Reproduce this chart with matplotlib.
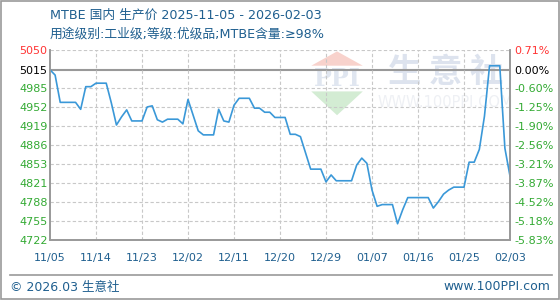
import matplotlib.pyplot as plt
import numpy as np
from matplotlib.patches import Polygon, Rectangle

plt.rcParams['font.family'] = ['DejaVu Sans', 'Noto Sans CJK SC']

# days after 2025-11-05 and price (yuan/ton) at each turning point
days = [0, 1, 2, 5, 6, 7, 8, 9, 11, 12, 13, 14, 15, 16, 18, 19, 20, 21, 22, 23,
        25, 26, 27, 29, 30, 32, 33, 34, 35, 36, 37, 39, 40, 41, 42, 43, 44, 46,
        47, 48, 49, 50, 51, 53, 54, 55, 56, 59, 60, 61, 62, 63, 64, 65, 67, 68,
        69, 70, 74, 75, 76, 77, 78, 79, 81, 82, 83, 84, 85, 86, 88, 89, 90]
prices = [5015, 5006, 4959, 4959, 4947, 4986, 4986, 4992, 4992, 4958, 4920, 4934,
          4946, 4927, 4927, 4951, 4953, 4929, 4925, 4930, 4930, 4922, 4964, 4910,
          4903, 4903, 4947, 4927, 4925, 4954, 4966, 4966, 4949, 4949, 4942, 4942,
          4933, 4933, 4904, 4904, 4900, 4872, 4844, 4844, 4822, 4834, 4824, 4824,
          4851, 4863, 4854, 4808, 4780, 4783, 4783, 4750, 4774, 4795, 4795, 4777,
          4788, 4801, 4808, 4813, 4813, 4856, 4856, 4878, 4935, 5022, 5022, 4880,
          4832]

base_price = 5015
y_labels = ['4722', '4755', '4788', '4821', '4853', '4886', '4919', '4952', '4985',
            '5015', '5050']
pct_labels = ['-5.83%', '-5.18%', '-4.52%', '-3.87%', '-3.21%', '-2.56%', '-1.90%',
              '-1.25%', '-0.60%', '0.00%', '0.71%']
x_labels = ['11/05', '11/14', '11/23', '12/02', '12/11', '12/20', '12/29', '01/07',
            '01/16', '01/25', '02/03']

blue_text = '#1f5f8f'
green = '#33aa33'
red = '#ff3333'
grey = '#999999'

fig = plt.figure(figsize=(5.6, 3.0), dpi=100)
fig.patches.append(Rectangle((0.0015, 0.003), 0.997, 0.994, transform=fig.transFigure,
                             fill=False, edgecolor=grey, linewidth=1.2))

ax = fig.add_axes([50 / 560, 60 / 300, 460 / 560, 190.5 / 300])
ymin, ymax = 4722, 5050
yt = np.linspace(ymin, ymax, 11)
yt[9] = base_price
xt = np.arange(0, 91, 9)

ax.set_xlim(0, 90)
ax.set_ylim(ymin, ymax)

# watermark
ax.add_patch(Polygon([[0.568, 0.915], [0.68, 0.915], [0.624, 0.99]], closed=True,
                     transform=ax.transAxes, facecolor='#f8d2cc', edgecolor='none', zorder=0))
ax.add_patch(Polygon([[0.568, 0.78], [0.68, 0.78], [0.624, 0.655]], closed=True,
                     transform=ax.transAxes, facecolor='#d3ecd3', edgecolor='none', zorder=0))
ax.text(0.624, 0.845, 'PPI', transform=ax.transAxes, ha='center', va='center',
        fontsize=17, color='#e0e6f0', fontweight='bold', family='DejaVu Serif', zorder=0)
ax.text(0.86, 0.88, '生 意 社', transform=ax.transAxes, ha='center', va='center',
        fontsize=24, color='#dde3ee', fontweight='bold', family='Noto Sans CJK SC', zorder=0)
ax.text(0.86, 0.72, 'WWW.100PPI.COM', transform=ax.transAxes, ha='center', va='center',
        fontsize=10.5, color='#eef0f4', zorder=0)

for v in yt[:-1]:
    if v == base_price:
        ax.axhline(v, color=grey, linewidth=1.5, zorder=1)
    else:
        ax.axhline(v, color='#c8c8c8', linewidth=0.8, linestyle=(0, (3, 2)), zorder=1)
ax.axhline(ymax, color='#c8c8c8', linewidth=0.8, linestyle=(0, (3, 2)), zorder=1)
for d in xt[1:-1]:
    ax.axvline(d, color='#c8c8c8', linewidth=0.8, linestyle=(0, (3, 2)), zorder=1)

ax.plot(days, prices, color='#3a98d8', linewidth=1.2, zorder=3)

ax.set_yticks(yt)
ax.set_yticklabels(y_labels, fontsize=8)
ax.set_xticks(xt)
ax.set_xticklabels(x_labels, fontsize=8, color=blue_text)
ax.tick_params(axis='y', length=0, pad=22)
ax.tick_params(axis='x', length=0, pad=9)
for lbl in ax.get_yticklabels():
    lbl.set_horizontalalignment('left')
    lbl.set_color(green)
ax.get_yticklabels()[-1].set_color(red)
ax.get_yticklabels()[-2].set_color('black')

ax2 = ax.twinx()
ax2.set_ylim(ymin, ymax)
ax2.set_yticks(yt)
ax2.set_yticklabels(pct_labels, fontsize=8)
ax2.tick_params(axis='y', length=0, pad=3)
for lbl in ax2.get_yticklabels():
    lbl.set_color(green)
ax2.get_yticklabels()[-1].set_color(red)
ax2.get_yticklabels()[-2].set_color('black')

for a in (ax, ax2):
    a.spines['top'].set_visible(False)
    for s in ('left', 'right', 'bottom'):
        a.spines[s].set_color(grey)
        a.spines[s].set_linewidth(1.2)

fig.text(50 / 560, 1 - 15 / 300, 'MTBE 国内 生产价 2025-11-05 - 2026-02-03', fontsize=9.2,
         color=blue_text, va='center', ha='left')
fig.text(50 / 560, 1 - 34 / 300, '用途级别:工业级;等级:优级品;MTBE含量:≥98%', fontsize=9.2,
         color=blue_text, va='center', ha='left')

fig.add_artist(plt.Line2D([10 / 560, 552 / 560], [1 - 275 / 300, 1 - 275 / 300],
                          transform=fig.transFigure, color=grey, linewidth=1.2))
fig.text(10 / 560, 1 - 287 / 300, '© 2026.03 生意社', fontsize=9, color=blue_text,
         va='center', ha='left')
fig.text(550 / 560, 1 - 287 / 300, 'www.100PPI.com', fontsize=9, color=blue_text,
         va='center', ha='right')

fig.savefig('out.png', dpi=100)
